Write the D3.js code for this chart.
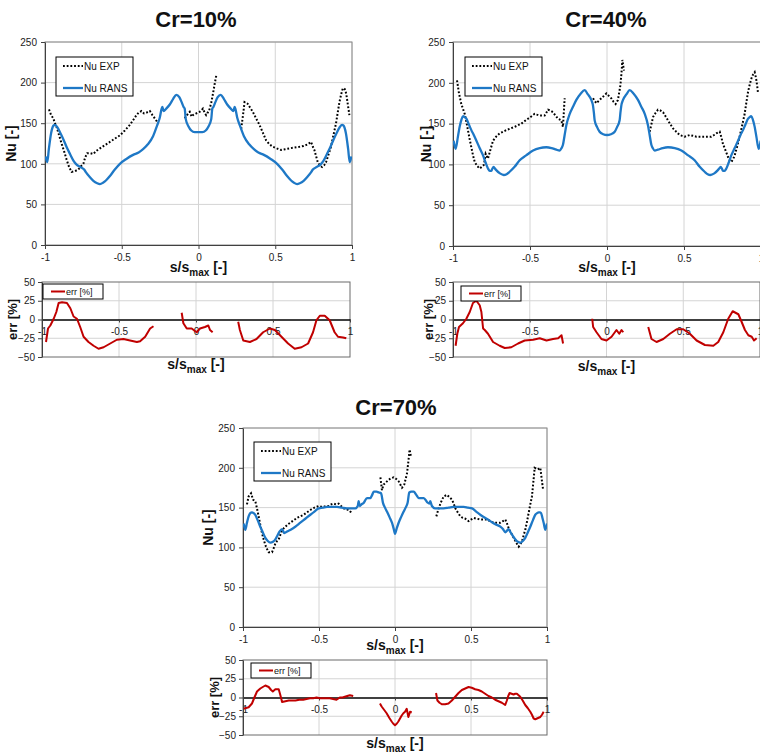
<!DOCTYPE html>
<html><head><meta charset="utf-8">
<script src="https://cdn.jsdelivr.net/npm/d3@7"></script>
<style>
body{margin:0;background:#fff}
svg{display:block}
text{font-family:Arial,"Liberation Sans",sans-serif}
</style>
</head><body>
<svg id="chart" width="760" height="755"></svg>
<script>
// ---- axis ticks / labels ----
const sTicks = [-1, -0.5, 0, 0.5, 1];
const sTickLabels = ["-1", "-0.5", "0", "0.5", "1"];
const nuTicks = [0, 50, 100, 150, 200, 250];
const errTicks = [-50, -25, 0, 25, 50];
const seriesNames = ["Nu EXP", "Nu RANS", "err [%]"];
const titles = ["Cr=10%", "Cr=40%", "Cr=70%"];

// ---- Cr = 10% ----
const cr10Rans = [[-0.996,109],[-0.985,102],[-0.975,118],[-0.96,138],[-0.945,147],[-0.935,148],[-0.92,145],[-0.9,138],[-0.88,130],[-0.86,121],[-0.837,112],[-0.815,104],[-0.794,99],[-0.77,96],[-0.745,93],[-0.735,90],[-0.71,84],[-0.685,79],[-0.66,76],[-0.642,75],[-0.62,77],[-0.6,80],[-0.577,85],[-0.545,93],[-0.512,100],[-0.47,106],[-0.426,111],[-0.39,114],[-0.361,118],[-0.33,124],[-0.296,134],[-0.27,147],[-0.252,157],[-0.24,168],[-0.235,170],[-0.228,165],[-0.21,168],[-0.187,173],[-0.165,180],[-0.144,185],[-0.125,182],[-0.11,176],[-0.097,170],[-0.09,168],[-0.083,155],[-0.065,146],[-0.047,141],[-0.025,139],[0,139],[0.025,139],[0.047,141],[0.065,146],[0.083,155],[0.09,168],[0.097,170],[0.11,176],[0.125,182],[0.144,185],[0.165,180],[0.187,173],[0.21,168],[0.228,165],[0.235,170],[0.24,168],[0.252,157],[0.27,147],[0.296,134],[0.33,124],[0.361,118],[0.39,114],[0.426,111],[0.47,106],[0.512,100],[0.545,93],[0.577,85],[0.6,80],[0.62,77],[0.642,75],[0.66,76],[0.685,79],[0.71,84],[0.735,90],[0.745,93],[0.77,96],[0.794,99],[0.815,104],[0.837,112],[0.86,121],[0.88,130],[0.9,138],[0.92,145],[0.935,148],[0.945,147],[0.96,138],[0.975,118],[0.985,102],[0.996,109]];
const cr10Exp = [[-0.974,167],[-0.96,160],[-0.946,156],[-0.935,150],[-0.924,145],[-0.908,135],[-0.892,125],[-0.875,115],[-0.859,105],[-0.843,96],[-0.827,90],[-0.805,91],[-0.783,93],[-0.765,97],[-0.75,100],[-0.738,108],[-0.725,113],[-0.705,113],[-0.686,112],[-0.665,116],[-0.642,119],[-0.61,123],[-0.577,127],[-0.545,131],[-0.512,135],[-0.48,141],[-0.447,148],[-0.425,154],[-0.404,160],[-0.39,163],[-0.372,165],[-0.355,162],[-0.339,163],[-0.317,165],[-0.3,160],[-0.285,156],[-0.263,150],[-0.18,null],[-0.09,156],[-0.075,160],[-0.057,164],[-0.045,158],[-0.036,160],[-0.015,162],[0.007,164],[0.02,166],[0.029,168],[0.04,163],[0.05,160],[0.06,163],[0.07,166],[0.083,175],[0.094,186],[0.105,198],[0.116,209],[0.19,null],[0.278,143],[0.29,160],[0.3,176],[0.31,175],[0.32,174],[0.337,169],[0.354,164],[0.375,156],[0.397,148],[0.42,138],[0.44,129],[0.462,124],[0.484,121],[0.51,119],[0.538,117],[0.565,118],[0.593,119],[0.625,120],[0.658,121],[0.685,122],[0.712,124],[0.733,127],[0.745,121],[0.755,117],[0.765,110],[0.777,102],[0.79,98],[0.805,96],[0.818,98],[0.831,102],[0.848,112],[0.863,121],[0.88,136],[0.896,150],[0.907,163],[0.918,176],[0.93,186],[0.94,193],[0.948,193],[0.957,191],[0.965,183],[0.972,174],[0.983,160]];
const cr10Err = [[-0.974,-30],[-0.961,-12],[-0.946,-8],[-0.924,1],[-0.907,10],[-0.892,22],[-0.87,23],[-0.838,22],[-0.816,15],[-0.795,4],[-0.773,1],[-0.752,-10],[-0.73,-23],[-0.698,-30],[-0.665,-35],[-0.633,-39],[-0.6,-37],[-0.557,-32],[-0.514,-27],[-0.471,-26],[-0.428,-28],[-0.384,-30],[-0.363,-29],[-0.33,-23],[-0.298,-12],[-0.276,-9],[-0.18,null],[-0.093,9],[-0.082,-5],[-0.06,-12],[-0.028,-12],[0.004,-17],[0.026,-12],[0.058,-10],[0.08,-8],[0.091,-14],[0.108,-17],[0.19,null],[0.274,-3],[0.285,-14],[0.307,-28],[0.35,-30],[0.393,-26],[0.436,-17],[0.48,-12],[0.512,-14],[0.555,-23],[0.598,-32],[0.641,-39],[0.685,-37],[0.728,-32],[0.76,-17],[0.782,-1],[0.804,5],[0.836,5],[0.868,-1],[0.9,-17],[0.922,-23],[0.955,-24],[0.976,-25]];

// ---- Cr = 40% ----
const cr40Rans = [[-0.996,129],[-0.983,119],[-0.968,134],[-0.957,146],[-0.945,155],[-0.935,159],[-0.924,158],[-0.913,156],[-0.897,149],[-0.881,142],[-0.865,136],[-0.848,129],[-0.827,120],[-0.805,111],[-0.788,102],[-0.773,95],[-0.761,92],[-0.751,92],[-0.744,95],[-0.736,97],[-0.728,95],[-0.719,93],[-0.695,89],[-0.671,87],[-0.652,88],[-0.632,91],[-0.6,97],[-0.567,105],[-0.525,111],[-0.48,117],[-0.437,120],[-0.394,121],[-0.36,120],[-0.329,118],[-0.307,117],[-0.295,120],[-0.286,124],[-0.275,136],[-0.264,148],[-0.242,162],[-0.22,171],[-0.199,179],[-0.17,187],[-0.145,191],[-0.125,186],[-0.102,179],[-0.091,172],[-0.085,163],[-0.08,154],[-0.065,146],[-0.048,140],[-0.025,137],[0,136],[0.025,137],[0.05,140],[0.066,146],[0.082,154],[0.087,163],[0.093,172],[0.104,179],[0.127,186],[0.147,191],[0.172,187],[0.201,179],[0.222,171],[0.245,162],[0.266,148],[0.277,136],[0.288,124],[0.297,120],[0.31,117],[0.33,118],[0.362,120],[0.396,121],[0.44,120],[0.483,117],[0.527,111],[0.569,105],[0.602,97],[0.634,91],[0.654,88],[0.671,87],[0.697,89],[0.72,93],[0.729,95],[0.738,97],[0.746,95],[0.753,92],[0.763,92],[0.775,95],[0.79,102],[0.807,111],[0.829,120],[0.851,129],[0.867,136],[0.883,142],[0.899,149],[0.916,156],[0.926,158],[0.937,159],[0.947,155],[0.959,146],[0.97,134],[0.985,119],[0.998,129]];
const cr40Exp = [[-0.974,203],[-0.961,187],[-0.946,174],[-0.935,168],[-0.924,162],[-0.913,152],[-0.903,142],[-0.892,131],[-0.881,121],[-0.87,111],[-0.859,103],[-0.843,98],[-0.827,95],[-0.813,97],[-0.801,99],[-0.794,105],[-0.788,113],[-0.78,110],[-0.773,107],[-0.757,118],[-0.74,129],[-0.72,134],[-0.697,138],[-0.675,140],[-0.654,142],[-0.627,144],[-0.6,146],[-0.578,148],[-0.556,150],[-0.535,153],[-0.513,156],[-0.49,159],[-0.47,162],[-0.455,161],[-0.437,160],[-0.42,160],[-0.405,160],[-0.395,163],[-0.383,167],[-0.368,166],[-0.351,164],[-0.335,160],[-0.318,156],[-0.297,154],[-0.286,146],[-0.28,165],[-0.275,181],[-0.18,null],[-0.091,181],[-0.08,178],[-0.069,175],[-0.053,178],[-0.037,181],[-0.02,184],[-0.004,187],[0.012,184],[0.028,181],[0.042,177],[0.056,174],[0.071,179],[0.087,197],[0.094,212],[0.1,228],[0.11,215],[0.19,null],[0.277,140],[0.288,149],[0.299,158],[0.315,163],[0.331,167],[0.348,166],[0.364,164],[0.38,159],[0.396,154],[0.412,149],[0.429,144],[0.45,140],[0.472,136],[0.488,135],[0.504,134],[0.52,135],[0.537,136],[0.558,135],[0.58,134],[0.6,134],[0.623,134],[0.65,134],[0.677,134],[0.695,136],[0.71,138],[0.732,140],[0.743,133],[0.753,125],[0.77,117],[0.786,109],[0.797,105],[0.807,103],[0.818,106],[0.829,111],[0.845,122],[0.861,134],[0.878,148],[0.894,162],[0.905,176],[0.916,189],[0.927,198],[0.937,205],[0.948,210],[0.959,213],[0.965,208],[0.97,203],[0.976,195],[0.981,187]];
const cr40Err = [[-0.983,-35],[-0.972,-19],[-0.961,-10],[-0.935,-5],[-0.913,1],[-0.891,10],[-0.87,22],[-0.848,25],[-0.826,19],[-0.815,10],[-0.804,-12],[-0.793,-14],[-0.772,-19],[-0.739,-30],[-0.696,-35],[-0.663,-38],[-0.62,-37],[-0.576,-32],[-0.533,-28],[-0.478,-27],[-0.435,-25],[-0.391,-28],[-0.348,-26],[-0.315,-25],[-0.293,-21],[-0.283,-32],[-0.18,null],[-0.093,1],[-0.087,-10],[-0.065,-17],[-0.033,-26],[0,-28],[0.033,-23],[0.065,-14],[0.083,-19],[0.098,-14],[0.109,-17],[0.19,null],[0.272,-10],[0.293,-26],[0.326,-30],[0.37,-26],[0.413,-19],[0.457,-13],[0.5,-13],[0.543,-19],[0.587,-28],[0.641,-34],[0.696,-35],[0.728,-30],[0.761,-17],[0.793,1],[0.822,11],[0.859,7],[0.88,-3],[0.902,-14],[0.924,-21],[0.946,-23],[0.961,-28],[0.978,-25]];

// ---- Cr = 70% ----
const cr70Rans = [[-0.996,130],[-0.985,122],[-0.974,131],[-0.963,139],[-0.952,143],[-0.941,144],[-0.93,143],[-0.919,141],[-0.903,134],[-0.886,126],[-0.87,119],[-0.853,112],[-0.837,108],[-0.82,106],[-0.803,107],[-0.787,110],[-0.773,115],[-0.759,120],[-0.743,123],[-0.728,118],[-0.71,120],[-0.689,122],[-0.656,126],[-0.623,131],[-0.59,136],[-0.557,141],[-0.53,145],[-0.502,149],[-0.475,150],[-0.447,151],[-0.415,151],[-0.382,151],[-0.35,150],[-0.316,149],[-0.29,149],[-0.261,149],[-0.245,152],[-0.239,158],[-0.232,152],[-0.22,154],[-0.206,156],[-0.184,162],[-0.162,162],[-0.15,166],[-0.14,170],[-0.122,170],[-0.107,169],[-0.092,168],[-0.079,156],[-0.066,150],[-0.053,145],[-0.036,138],[-0.02,131],[-0.008,123],[0,117],[0.01,123],[0.024,131],[0.04,138],[0.057,145],[0.07,150],[0.083,156],[0.094,169],[0.108,170],[0.123,170],[0.14,166],[0.156,162],[0.172,162],[0.189,162],[0.211,157],[0.226,155],[0.232,158],[0.243,152],[0.265,149],[0.29,149],[0.32,149],[0.353,150],[0.386,151],[0.42,151],[0.452,151],[0.48,150],[0.507,149],[0.534,145],[0.561,141],[0.594,137],[0.627,133],[0.66,129],[0.693,126],[0.71,123],[0.726,119],[0.737,121],[0.748,123],[0.76,119],[0.77,116],[0.792,110],[0.808,107],[0.825,106],[0.841,108],[0.857,112],[0.874,119],[0.89,126],[0.907,134],[0.923,141],[0.935,143],[0.945,144],[0.953,144],[0.961,143],[0.97,137],[0.978,131],[0.989,122],[1,130]];
const cr70Exp = [[-0.974,154],[-0.963,164],[-0.947,168],[-0.934,160],[-0.919,158],[-0.908,149],[-0.897,139],[-0.886,128],[-0.875,118],[-0.864,110],[-0.853,103],[-0.842,98],[-0.831,94],[-0.82,94],[-0.809,94],[-0.798,99],[-0.787,105],[-0.776,108],[-0.765,110],[-0.754,116],[-0.743,121],[-0.732,124],[-0.721,126],[-0.705,129],[-0.689,131],[-0.667,134],[-0.645,137],[-0.623,139],[-0.601,141],[-0.579,144],[-0.557,147],[-0.53,150],[-0.502,152],[-0.485,151],[-0.469,151],[-0.452,152],[-0.436,152],[-0.42,154],[-0.404,155],[-0.388,154],[-0.371,155],[-0.355,152],[-0.338,149],[-0.322,148],[-0.305,147],[-0.294,145],[-0.283,144],[-0.18,null],[-0.096,188],[-0.086,172],[-0.075,179],[-0.058,182],[-0.042,185],[-0.025,187],[-0.009,188],[0.008,186],[0.024,183],[0.035,179],[0.046,175],[0.061,179],[0.07,186],[0.079,193],[0.088,208],[0.096,223],[0.105,214],[0.19,null],[0.272,139],[0.287,149],[0.303,157],[0.32,164],[0.342,166],[0.358,163],[0.375,160],[0.386,155],[0.397,149],[0.413,144],[0.43,139],[0.446,137],[0.463,136],[0.474,134],[0.485,133],[0.5,135],[0.518,137],[0.54,136],[0.561,135],[0.583,135],[0.605,135],[0.627,133],[0.649,131],[0.671,131],[0.693,131],[0.71,133],[0.726,135],[0.737,130],[0.748,124],[0.764,118],[0.781,112],[0.797,106],[0.814,101],[0.825,104],[0.836,108],[0.846,115],[0.857,122],[0.868,132],[0.879,143],[0.89,154],[0.901,164],[0.91,182],[0.919,200],[0.929,199],[0.939,198],[0.948,199],[0.956,200],[0.962,191],[0.967,183],[0.974,173]];
const cr70Err = [[-0.996,-15],[-0.98,-14],[-0.963,-13],[-0.941,-8],[-0.925,0],[-0.908,8],[-0.886,12],[-0.87,14],[-0.853,16],[-0.831,14],[-0.815,10],[-0.804,8],[-0.787,11],[-0.765,11],[-0.754,3],[-0.743,-6],[-0.721,-5],[-0.699,-4],[-0.677,-4],[-0.655,-4],[-0.63,-3],[-0.604,-3],[-0.56,-1],[-0.538,-1],[-0.516,0],[-0.495,-1],[-0.473,-1],[-0.451,-1],[-0.429,-1],[-0.407,-2],[-0.385,-3],[-0.363,0],[-0.345,0],[-0.33,1],[-0.314,2],[-0.297,3],[-0.275,2],[-0.18,null],[-0.099,-8],[-0.088,-12],[-0.077,-15],[-0.066,-18],[-0.055,-21],[-0.038,-27],[-0.022,-32],[-0.011,-35],[0,-37],[0.011,-35],[0.022,-32],[0.033,-28],[0.044,-24],[0.055,-21],[0.066,-19],[0.077,-15],[0.088,-26],[0.099,-19],[0.11,-20],[0.19,null],[0.27,6],[0.279,-4],[0.293,-7],[0.308,-9],[0.33,-9],[0.352,-8],[0.374,-4],[0.396,1],[0.418,6],[0.44,10],[0.462,12],[0.484,14],[0.505,13],[0.527,11],[0.549,10],[0.571,8],[0.593,5],[0.615,2],[0.637,0],[0.659,-3],[0.681,-5],[0.703,-7],[0.725,-10],[0.736,-4],[0.745,2],[0.754,6],[0.767,5],[0.78,4],[0.791,5],[0.802,5],[0.813,3],[0.824,1],[0.84,-4],[0.857,-10],[0.873,-14],[0.89,-19],[0.901,-23],[0.912,-28],[0.923,-29],[0.934,-28],[0.945,-27],[0.956,-26],[0.967,-23],[0.978,-19]];

// ---- layout of the three panel pairs ----
const layout = [
  { title: titles[0], tx: 196, ty: 27,
    main: { x0: 45, x1: 352, y0: 42, y1: 245 }, mainTitleX: 11.5, mainXTitleY: 272,
    legMain: { x: 56, y: 57 },
    err: { x0: 42, x1: 350, y0: 282, y1: 357 }, errTitleX: 12.5, errXTitleY: 369,
    legErr: { x: 43, y: 284 },
    rans: cr10Rans, exp: cr10Exp, errData: cr10Err },
  { title: titles[1], tx: 606, ty: 27,
    main: { x0: 453, x1: 761, y0: 42, y1: 246 }, mainTitleX: 426, mainXTitleY: 272,
    legMain: { x: 465, y: 57 },
    err: { x0: 453, x1: 760, y0: 282, y1: 357 }, errTitleX: 428, errXTitleY: 371,
    legErr: { x: 461, y: 286 },
    rans: cr40Rans, exp: cr40Exp, errData: cr40Err },
  { title: titles[2], tx: 396, ty: 415,
    main: { x0: 243, x1: 547, y0: 428, y1: 627 }, mainTitleX: 208, mainXTitleY: 650,
    legMain: { x: 254, y: 442 },
    err: { x0: 243, x1: 547, y0: 660, y1: 735 }, errTitleX: 214, errXTitleY: 748,
    legErr: { x: 251, y: 663 },
    rans: cr70Rans, exp: cr70Exp, errData: cr70Err }
];

const svg = d3.select("#chart");
const defs = svg.append("defs");
const BLUE = "#1e78c6", RED = "#c00000", GRID = "#d4d4d4", FRAME = "#8a8a8a", AXIS = "#404040";

function xTitle(g, cx, y) {
  const t = g.append("text").attr("x", cx).attr("y", y).attr("text-anchor", "middle")
    .attr("font-size", 14).attr("font-weight", "bold").attr("fill", "#111");
  t.append("tspan").text("s/s");
  t.append("tspan").attr("font-size", 10).attr("dy", 3.5).text("max");
  t.append("tspan").attr("dy", -3.5).text(" [-]");
}

function yTitle(g, x, cy, label, size) {
  g.append("text").attr("transform", `translate(${x},${cy}) rotate(-90)`)
    .attr("text-anchor", "middle").attr("dy", "0.35em")
    .attr("font-size", size).attr("font-weight", "bold").attr("fill", "#111").text(label);
}

function styleAxis(a) {
  a.selectAll("path.domain").attr("stroke", AXIS).attr("stroke-width", 1);
  a.selectAll(".tick line").attr("stroke", AXIS);
  a.selectAll(".tick text").attr("font-size", 10).attr("fill", "#222")
    .attr("font-family", "Arial, 'Liberation Sans', sans-serif");
}

layout.forEach((p, i) => {
  const g = svg.append("g");

  // panel title
  g.append("text").attr("x", p.tx).attr("y", p.ty).attr("text-anchor", "middle")
    .attr("font-size", 22).attr("font-weight", "bold").attr("fill", "#111").text(p.title);

  // ===== Nusselt number plot =====
  const m = p.main;
  const x = d3.scaleLinear().domain([-1, 1]).range([m.x0, m.x1]);
  const y = d3.scaleLinear().domain([0, 250]).range([m.y1, m.y0]);

  g.append("g").selectAll("line").data(nuTicks.slice(1)).join("line")
    .attr("x1", m.x0).attr("x2", m.x1).attr("y1", d => y(d)).attr("y2", d => y(d))
    .attr("stroke", GRID);
  g.append("g").selectAll("line").data(sTicks.slice(1)).join("line")
    .attr("y1", m.y0).attr("y2", m.y1).attr("x1", d => x(d)).attr("x2", d => x(d))
    .attr("stroke", GRID);
  g.append("rect").attr("x", m.x0).attr("y", m.y0).attr("width", m.x1 - m.x0).attr("height", m.y1 - m.y0)
    .attr("fill", "none").attr("stroke", FRAME);

  const ax = g.append("g").attr("transform", `translate(0,${m.y1})`)
    .call(d3.axisBottom(x).tickValues(sTicks).tickFormat((d, k) => sTickLabels[k]).tickSize(4).tickSizeOuter(0).tickPadding(5));
  styleAxis(ax);
  const ay = g.append("g").attr("transform", `translate(${m.x0},0)`)
    .call(d3.axisLeft(y).tickValues(nuTicks).tickSize(4).tickSizeOuter(0).tickPadding(4));
  styleAxis(ay);

  xTitle(g, (m.x0 + m.x1) / 2, p.mainXTitleY);
  yTitle(g, p.mainTitleX, (m.y0 + m.y1) / 2, "Nu [-]", 14);

  const clipM = "clipM" + i;
  defs.append("clipPath").attr("id", clipM).append("rect")
    .attr("x", m.x0).attr("y", m.y0).attr("width", m.x1 - m.x0).attr("height", m.y1 - m.y0);

  const lineSmooth = d3.line().defined(d => d[1] != null).x(d => x(d[0])).y(d => y(d[1])).curve(d3.curveMonotoneX);
  const lineRaw = d3.line().defined(d => d[1] != null).x(d => x(d[0])).y(d => y(d[1]));

  const curves = g.append("g").attr("clip-path", `url(#${clipM})`);
  curves.append("path").datum(p.exp).attr("d", lineRaw).attr("fill", "none")
    .attr("stroke", "#000").attr("stroke-width", 2).attr("stroke-dasharray", "1.8,1.9");
  curves.append("path").datum(p.rans).attr("d", lineSmooth).attr("fill", "none")
    .attr("stroke", BLUE).attr("stroke-width", 2.3).attr("stroke-linejoin", "round");

  // legend
  const L = g.append("g").attr("transform", `translate(${p.legMain.x},${p.legMain.y})`);
  L.append("rect").attr("width", 77).attr("height", 39).attr("fill", "#fff").attr("stroke", "#000");
  L.append("line").attr("x1", 7).attr("x2", 27).attr("y1", 9).attr("y2", 9)
    .attr("stroke", "#000").attr("stroke-width", 2).attr("stroke-dasharray", "1.8,1.9");
  L.append("text").attr("x", 28).attr("y", 12.5).attr("font-size", 10).attr("fill", "#111").text(seriesNames[0]);
  L.append("line").attr("x1", 7).attr("x2", 27).attr("y1", 31).attr("y2", 31)
    .attr("stroke", BLUE).attr("stroke-width", 2.3);
  L.append("text").attr("x", 28).attr("y", 34.5).attr("font-size", 10).attr("fill", "#111").text(seriesNames[1]);

  // ===== relative error plot =====
  const e = p.err;
  const xe = d3.scaleLinear().domain([-1, 1]).range([e.x0, e.x1]);
  const ye = d3.scaleLinear().domain([-50, 50]).range([e.y1, e.y0]);

  g.append("g").selectAll("line").data([-25, 25]).join("line")
    .attr("x1", e.x0).attr("x2", e.x1).attr("y1", d => ye(d)).attr("y2", d => ye(d))
    .attr("stroke", GRID);
  g.append("g").selectAll("line").data([-0.5, 0, 0.5]).join("line")
    .attr("y1", e.y0).attr("y2", e.y1).attr("x1", d => xe(d)).attr("x2", d => xe(d))
    .attr("stroke", GRID);
  g.append("rect").attr("x", e.x0).attr("y", e.y0).attr("width", e.x1 - e.x0).attr("height", e.y1 - e.y0)
    .attr("fill", "none").attr("stroke", "#6a6a6a");

  const aex = g.append("g").attr("transform", `translate(0,${ye(0)})`)
    .call(d3.axisBottom(xe).tickValues(sTicks).tickFormat((d, k) => sTickLabels[k]).tickSize(3).tickSizeOuter(0).tickPadding(5));
  styleAxis(aex);
  aex.selectAll("path.domain").attr("stroke", "#000").attr("stroke-width", 1.3);
  const aey = g.append("g").attr("transform", `translate(${e.x0},0)`)
    .call(d3.axisLeft(ye).tickValues(errTicks).tickSize(4).tickSizeOuter(0).tickPadding(3));
  styleAxis(aey);

  xTitle(g, (e.x0 + e.x1) / 2, p.errXTitleY);
  yTitle(g, p.errTitleX, (e.y0 + e.y1) / 2, "err [%]", 13);

  const clipE = "clipE" + i;
  defs.append("clipPath").attr("id", clipE).append("rect")
    .attr("x", e.x0).attr("y", e.y0).attr("width", e.x1 - e.x0).attr("height", e.y1 - e.y0);
  const lineErr = d3.line().defined(d => d[1] != null).x(d => xe(d[0])).y(d => ye(d[1]));
  g.append("g").attr("clip-path", `url(#${clipE})`).append("path").datum(p.errData)
    .attr("d", lineErr).attr("fill", "none").attr("stroke", RED).attr("stroke-width", 2)
    .attr("stroke-linejoin", "round");

  const LE = g.append("g").attr("transform", `translate(${p.legErr.x},${p.legErr.y})`);
  LE.append("rect").attr("width", 60).attr("height", 15).attr("fill", "#fff").attr("stroke", "#000");
  LE.append("line").attr("x1", 8).attr("x2", 22).attr("y1", 7.5).attr("y2", 7.5)
    .attr("stroke", RED).attr("stroke-width", 2);
  LE.append("text").attr("x", 23).attr("y", 11).attr("font-size", 9).attr("fill", "#111").text(seriesNames[2]);
});
</script>
</body></html>
